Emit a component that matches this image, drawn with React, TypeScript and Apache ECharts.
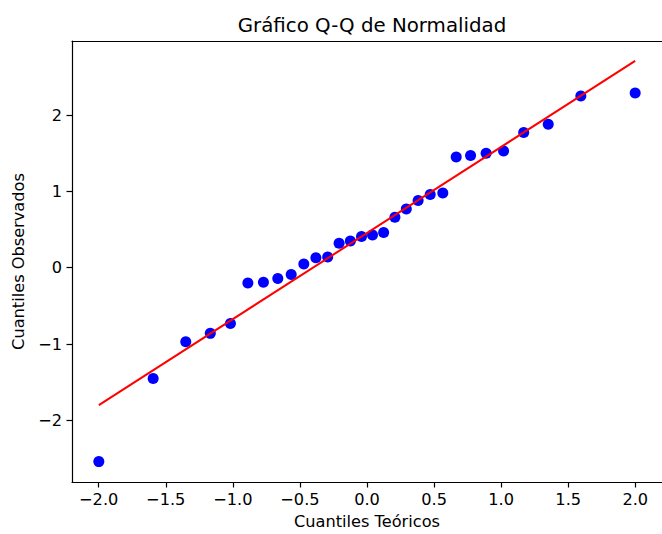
import React, { useEffect, useRef } from "react";
import * as echarts from "echarts";

const theoreticalQuantiles = [
  -1.999, -1.594, -1.351, -1.168, -1.018, -0.888, -0.772, -0.665, -0.565, -0.471,
  -0.381, -0.293, -0.208, -0.124, -0.041, 0.041, 0.124, 0.208, 0.293, 0.381,
  0.471, 0.565, 0.665, 0.772, 0.888, 1.018, 1.168, 1.351, 1.594, 1.999,
];
const observedQuantiles = [
  -2.54, -1.45, -0.97, -0.86, -0.73, -0.2, -0.19, -0.14, -0.09, 0.05,
  0.13, 0.14, 0.32, 0.35, 0.41, 0.43, 0.46, 0.66, 0.77, 0.88,
  0.96, 0.98, 1.45, 1.47, 1.5, 1.53, 1.77, 1.88, 2.25, 2.29,
];
const refLineX = [-1.999, 1.999];
const refLineY = [-1.8, 2.71];
const xTicks = [-2, -1.5, -1, -0.5, 0, 0.5, 1, 1.5, 2];
const yTicks = [-2, -1, 0, 1, 2];

const FONT = "DejaVu Sans";
const LABEL_SIZE = 16.2;
const fmt = (v: number, d: number) => {
  const s = Math.abs(v).toFixed(d);
  return v < -1e-9 ? "\u2212" + s : s;
};

export default function App() {
  const ref = useRef<HTMLDivElement>(null);
  useEffect(() => {
    document.body.style.margin = "0";
    const chart = echarts.init(ref.current!, null, { renderer: "svg" });
    const lineStyle = { color: "#000", width: 1.2 };
    chart.setOption({
      animation: false,
      backgroundColor: "#ffffff",
      textStyle: { fontFamily: FONT },
      title: {
        text: "Gráfico Q-Q de Normalidad",
        left: 367,
        textAlign: "center",
        top: 10,
        textStyle: { fontFamily: FONT, fontSize: 19.8, fontWeight: "normal", color: "#000" },
      },
      grid: {
        left: 72,
        top: 41,
        width: 596,
        height: 443,
      },
      xAxis: [
        {
          type: "value",
          min: -2.199,
          max: 2.199,
          name: "Cuantiles Teóricos",
          nameLocation: "middle",
          nameGap: 31,
          nameTextStyle: { fontFamily: FONT, fontSize: LABEL_SIZE, color: "#000" },
          axisLine: { show: true, onZero: false, lineStyle },
          axisTick: { show: true, length: 5.5, customValues: xTicks, lineStyle },
          axisLabel: {
            customValues: xTicks,
            formatter: (v: number) => fmt(v, 1),
            color: "#000",
            fontFamily: FONT,
            fontSize: LABEL_SIZE,
            margin: 9,
          },
          splitLine: { show: false },
        },
        {
          type: "value",
          position: "top",
          min: -2.199,
          max: 2.199,
          axisLine: { show: true, onZero: false, lineStyle },
          axisTick: { show: false },
          axisLabel: { show: false },
          splitLine: { show: false },
        },
      ],
      yAxis: {
        type: "value",
        min: -2.807,
        max: 2.97,
        name: "Cuantiles Observados",
        nameLocation: "middle",
        nameGap: 46,
        nameTextStyle: { fontFamily: FONT, fontSize: LABEL_SIZE, color: "#000" },
        axisLine: { show: true, onZero: false, lineStyle },
        axisTick: { show: true, length: 5.5, customValues: yTicks, lineStyle },
        axisLabel: {
          customValues: yTicks,
          formatter: (v: number) => fmt(v, 0),
          color: "#000",
          fontFamily: FONT,
          fontSize: LABEL_SIZE,
          margin: 10,
        },
        splitLine: { show: false },
      },
      series: [
        {
          type: "scatter",
          data: theoreticalQuantiles.map((x, i) => [x, observedQuantiles[i]]),
          symbol: "circle",
          symbolSize: 11,
          itemStyle: { color: "#0000ff", opacity: 1 },
          z: 2,
        },
        {
          type: "line",
          data: refLineX.map((x, i) => [x, refLineY[i]]),
          symbol: "none",
          lineStyle: { color: "#ff0000", width: 2 },
          z: 3,
        },
      ],
    });
    return () => chart.dispose();
  }, []);
  return <div ref={ref} style={{ width: 662, height: 534 }} />;
}
